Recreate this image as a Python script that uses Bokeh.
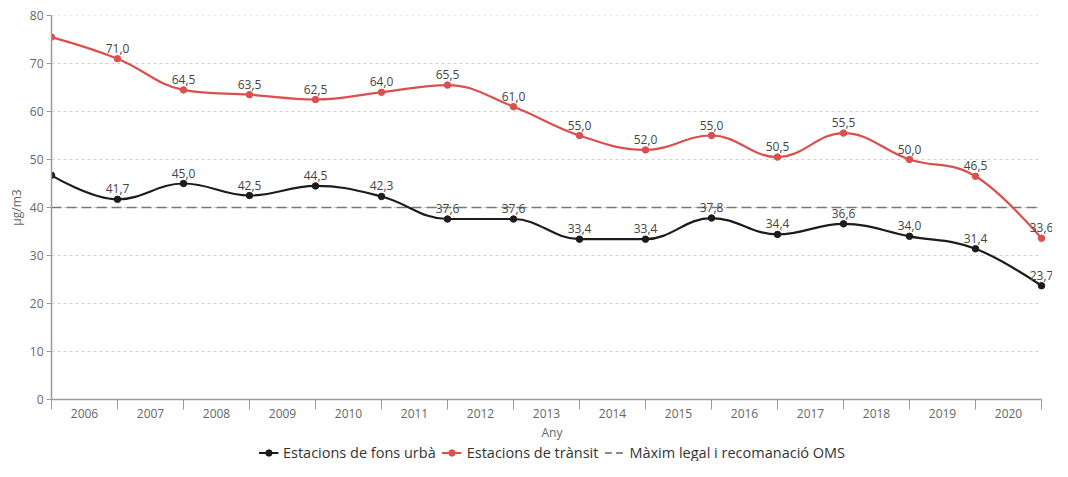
from bokeh.plotting import figure
from bokeh.layouts import column
from bokeh.models import (ColumnDataSource, FixedTicker, CustomJSTickFormatter, Legend, LegendItem, Range1d)
from bokeh.embed import file_html
from bokeh.resources import INLINE
from bokeh.core.properties import value

years = ["2006", "2007", "2008", "2009", "2010", "2011", "2012", "2013",
         "2014", "2015", "2016", "2017", "2018", "2019", "2020"]
urban = [46.7, 41.7, 45.0, 42.5, 44.5, 42.3, 37.6, 37.6, 33.4, 33.4, 37.8, 34.4, 36.6, 34.0, 31.4, 23.7]
transit = [75.5, 71.0, 64.5, 63.5, 62.5, 64.0, 65.5, 61.0, 55.0, 52.0, 55.0, 50.5, 55.5, 50.0, 46.5, 33.6]
limit = 40
y_ticks = [0, 10, 20, 30, 40, 50, 60, 70, 80]
series_names = ["Estacions de fons urbà", "Estacions de trànsit", "Màxim legal i recomanació OMS"]

FONT = "Open Sans"
RED = "#d9504e"
BLACK = "#1c1c1c"
AXIS = "#9a9a9a"


def spline_segments(xs, ys, smoothing=1.5):
    n = len(xs)
    rc = [None] * n
    lc = [None] * n
    for i in range(n):
        x, y = xs[i], ys[i]
        if 0 < i < n - 1:
            lx, ly = xs[i - 1], ys[i - 1]
            nx, ny = xs[i + 1], ys[i + 1]
            d = smoothing + 1
            lcx = (smoothing * x + lx) / d
            lcy = (smoothing * y + ly) / d
            rcx = (smoothing * x + nx) / d
            rcy = (smoothing * y + ny) / d
            corr = 0
            if rcx != lcx:
                corr = (rcy - lcy) * (rcx - x) / (rcx - lcx) + y - rcy
            lcy += corr
            rcy += corr
            if lcy > ly and lcy > y:
                lcy = max(ly, y); rcy = 2 * y - lcy
            elif lcy < ly and lcy < y:
                lcy = min(ly, y); rcy = 2 * y - lcy
            if rcy > ny and rcy > y:
                rcy = max(ny, y); lcy = 2 * y - rcy
            elif rcy < ny and rcy < y:
                rcy = min(ny, y); lcy = 2 * y - rcy
            lc[i] = (lcx, lcy)
            rc[i] = (rcx, rcy)
    seg = dict(x0=[], y0=[], x1=[], y1=[], cx0=[], cy0=[], cx1=[], cy1=[])
    for i in range(1, n):
        a = rc[i - 1] or (xs[i - 1], ys[i - 1])
        b = lc[i] or (xs[i], ys[i])
        seg["x0"].append(xs[i - 1]); seg["y0"].append(ys[i - 1])
        seg["x1"].append(xs[i]); seg["y1"].append(ys[i])
        seg["cx0"].append(a[0]); seg["cy0"].append(a[1])
        seg["cx1"].append(b[0]); seg["cy1"].append(b[1])
    return seg


xs = list(range(len(urban)))

W = 1052
LEFT = 51
PLOT_W = 990          # pixel width of the data span (first to last point)
FRAME_W = W - LEFT    # frame extends a bit to the right so end labels are not clipped
x_end = xs[0] + (xs[-1] - xs[0]) * FRAME_W / PLOT_W

p = figure(width=W, height=443, output_backend="svg", toolbar_location=None,
           x_range=Range1d(xs[0], x_end), y_range=Range1d(y_ticks[0], y_ticks[-1]),
           min_border_left=LEFT, min_border_right=0, min_border_top=15, min_border_bottom=0)
p.outline_line_color = None
p.background_fill_color = "white"

# grid (drawn only across the data span)
p.xgrid.visible = False
p.ygrid.visible = False
gy = y_ticks[1:]
p.segment(x0=[xs[0]] * len(gy), x1=[xs[-1]] * len(gy), y0=gy, y1=gy,
          line_color="#d0d0d0", line_dash="3 3", line_width=1)

# axes
for ax in (p.xaxis[0], p.yaxis[0]):
    ax.axis_line_color = AXIS
    ax.axis_line_width = 1.5
    ax.major_label_text_font = FONT
    ax.major_label_text_font_size = "12px"
    ax.major_label_text_color = "#666666"
    ax.axis_label_text_font = FONT
    ax.axis_label_text_font_size = "12px"
    ax.axis_label_text_color = "#666666"
    ax.axis_label_text_font_style = "normal"

p.yaxis.ticker = FixedTicker(ticks=y_ticks)
p.yaxis.major_tick_out = 5
p.yaxis.major_tick_in = 0
p.yaxis.major_tick_line_color = AXIS
p.yaxis.minor_tick_line_color = None
p.yaxis.major_label_standoff = 3
p.yaxis.axis_label = "µg/m3"
p.yaxis.axis_label_standoff = 2

p.xaxis.bounds = (xs[0], xs[-1])
p.xaxis.ticker = FixedTicker(ticks=[i + 0.5 for i in range(len(years))],
                             minor_ticks=list(range(len(years) + 1)))
p.xaxis.formatter = CustomJSTickFormatter(args=dict(years=years),
                                          code="return years[Math.floor(tick)] || '';")
p.xaxis.major_tick_line_color = None
p.xaxis.major_tick_out = 0
p.xaxis.major_tick_in = 0
p.xaxis.minor_tick_line_color = AXIS
p.xaxis.minor_tick_out = 10
p.xaxis.minor_tick_in = 0
p.xaxis.major_label_standoff = -1
p.xaxis.axis_label = "Any"
p.xaxis.axis_label_standoff = 3

# limit line
p.line(x=[xs[0], xs[-1]], y=[limit, limit], line_color="#777777",
       line_width=1.5, line_dash="10 5")

for vals, color in ((urban, BLACK), (transit, RED)):
    seg = spline_segments(xs, vals)
    p.bezier(source=ColumnDataSource(seg), x0="x0", y0="y0", x1="x1", y1="y1",
             cx0="cx0", cy0="cy0", cx1="cx1", cy1="cy1",
             line_color=color, line_width=2.2)
    p.scatter(x=xs, y=vals, size=6.5, fill_color=color, line_color=color)
    lab = ColumnDataSource(dict(x=xs[1:], y=vals[1:],
                                t=[f"{v:.1f}".replace(".", ",") for v in vals[1:]]))
    p.text(x="x", y="y", text="t", source=lab, text_font=value(FONT),
           text_font_size="12px", text_color="#444444", text_align="center",
           text_baseline="bottom", y_offset=-6)

# legend strip below the chart
lf = figure(width=W, height=18, output_backend="svg", toolbar_location=None,
            x_range=Range1d(0, 1), y_range=Range1d(0, 1),
            x_axis_location=None, y_axis_location=None, min_border=0)
lf.outline_line_color = None
lf.xgrid.visible = False
lf.ygrid.visible = False
items = []
for color, name in ((BLACK, series_names[0]), (RED, series_names[1])):
    rl = lf.line(x=[5, 6], y=[5, 5], line_color=color, line_width=2.2)
    rm = lf.scatter(x=[5], y=[5], size=5, fill_color=color, line_color=color)
    items.append(LegendItem(label=name, renderers=[rl, rm]))
rd = lf.line(x=[5, 6], y=[5, 5], line_color="#666666", line_width=1.5, line_dash="7 4")
items.append(LegendItem(label=series_names[2], renderers=[rd]))

legend = Legend(items=items, orientation="horizontal", location="center",
                label_text_font=FONT, label_text_font_size="14.5px", label_text_color="#333333",
                glyph_width=20, glyph_height=16, spacing=6, label_standoff=5,
                padding=0, margin=0, border_line_color=None, background_fill_alpha=0,
                label_height=18)
lf.add_layout(legend, "center")

layout = column(p, lf, spacing=0)
open("out.html", "w").write(file_html(layout, INLINE))
